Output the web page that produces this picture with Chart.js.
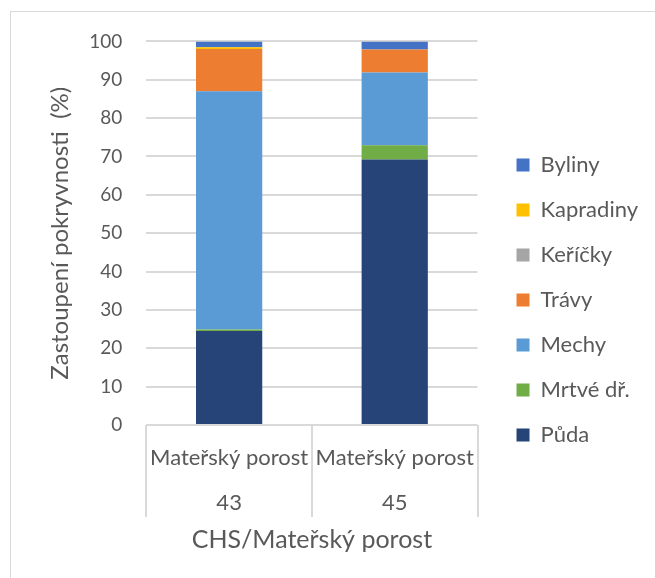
<!DOCTYPE html>
<html>
<head>
<meta charset="utf-8">
<script src="https://cdn.jsdelivr.net/npm/chart.js@4"></script>
<style>
  html, body { margin: 0; padding: 0; background: #fff; }
  #wrap {
    position: absolute; left: 10px; top: 11px; width: 645px; height: 567px;
    border-left: 1px solid #d9d9d9; border-top: 1px solid #d9d9d9;
  }
  #chart { display: block; }
</style>
</head>
<body>
<div id="wrap"><canvas id="chart" width="644" height="566"></canvas></div>
<script>
// kategorie na ose x (dvouúrovňové popisky)
var categories = [['Mateřský porost', '43'], ['Mateřský porost', '45']]

// podíly pokryvnosti v %
var puda = [24.5, 69.2]
var mrtveDr = [0.4, 3.7]
var mechy = [62.1, 19.0]
var travy = [11.0, 6.0]
var kericky = [0, 0]
var kapradiny = [0.5, 0]
var byliny = [1.5, 2.1]

var seriesNames = ['Půda', 'Mrtvé dř.', 'Mechy', 'Trávy', 'Keříčky', 'Kapradiny', 'Byliny']
var seriesColors = ['#264478', '#70AD47', '#5B9BD5', '#ED7D31', '#A5A5A5', '#FFC000', '#4472C4']
var seriesData = [puda, mrtveDr, mechy, travy, kericky, kapradiny, byliny]

var FONT = 'Lato, "Open Sans", sans-serif'
var TEXT = '#595959'
var GRID = '#d9d9d9'

Chart.defaults.font.family = FONT
Chart.defaults.color = TEXT

var datasets = seriesNames.map(function(name, i) {
  return {
    label: name,
    data: seriesData[i],
    backgroundColor: seriesColors[i],
    borderWidth: 0,
    categoryPercentage: 1.0,
    barPercentage: 0.4
  }
})

new Chart(document.getElementById('chart').getContext('2d'), {
  type: 'bar',
  data: {
    labels: categories,
    datasets: datasets
  },
  options: {
    responsive: false,
    animation: false,
    layout: {
      padding: { left: 35, right: 7, top: 17, bottom: 23 }
    },
    plugins: {
      legend: {
        position: 'right',
        reverse: true,
        maxWidth: 220,
        // prázdný titulek jen posune položky o kousek níž
        title: { display: true, text: ' ', font: { size: 1 }, padding: { top: 15, bottom: 0 } },
        labels: {
          boxWidth: 13,
          boxHeight: 13,
          padding: 23,
          color: TEXT,
          font: { size: 22 }
        }
      },
      tooltip: { enabled: false }
    },
    scales: {
      x: {
        stacked: true,
        grid: {
          display: true,
          offset: true,
          drawOnChartArea: false,
          drawTicks: true,
          tickLength: 92,
          color: GRID,
          lineWidth: 2
        },
        border: { display: false },
        ticks: {
          color: TEXT,
          padding: -82,
          maxRotation: 0,
          autoSkip: false,
          font: { size: 22, lineHeight: 2.045 }
        },
        title: {
          display: true,
          text: 'CHS/Mateřský porost',
          color: TEXT,
          padding: { top: 82, bottom: 0 },
          font: { size: 25 }
        }
      },
      y: {
        stacked: true,
        min: 0,
        max: 100,
        ticks: {
          stepSize: 10,
          color: TEXT,
          padding: 18,
          font: { size: 19 }
        },
        grid: {
          color: GRID,
          lineWidth: 2,
          drawTicks: true,
          tickLength: 6,
          tickColor: 'rgba(0,0,0,0)'
        },
        border: { display: false },
        title: {
          display: true,
          text: 'Zastoupení pokryvnosti  (%)',
          color: TEXT,
          padding: { top: 0, bottom: 0 },
          font: { size: 24 }
        }
      },
      // prázdná osa vpravo jen jako mezera před legendou
      gap: {
        position: 'right',
        display: true,
        grid: { drawOnChartArea: false, drawTicks: false },
        border: { display: false },
        ticks: { display: false },
        afterFit: function(scale) { scale.width = 16 }
      }
    }
  }
})
</script>
</body>
</html>
